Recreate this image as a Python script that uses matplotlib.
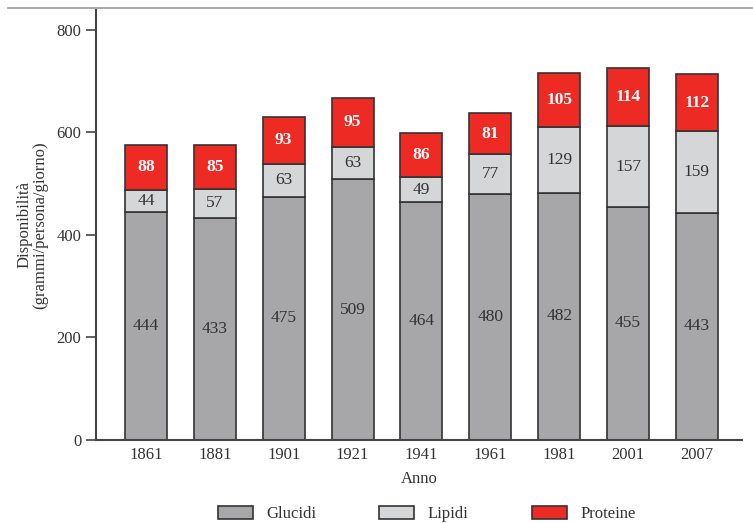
import numpy as np
import matplotlib.pyplot as plt
from matplotlib.lines import Line2D

anni = ['1861', '1881', '1901', '1921', '1941', '1961', '1981', '2001', '2007']
glucidi = [444, 433, 475, 509, 464, 480, 482, 455, 443]
lipidi = [44, 57, 63, 63, 49, 77, 129, 157, 159]
proteine = [88, 85, 93, 95, 86, 81, 105, 114, 112]

plt.rcParams['font.family'] = ['Liberation Serif', 'DejaVu Serif']

fig = plt.figure(figsize=(7.53, 5.23), dpi=100)
ax = fig.add_axes([0.1275, 0.1587, 0.8575, 0.8223])

x = np.arange(len(anni))
g = np.array(glucidi)
l = np.array(lipidi)
p = np.array(proteine)
w = 0.61
ec = '#333333'
ax.bar(x, g, w, color='#a7a7aa', edgecolor=ec, linewidth=1.2, label='Glucidi')
ax.bar(x, l, w, bottom=g, color='#d5d6d8', edgecolor=ec, linewidth=1.2, label='Lipidi')
ax.bar(x, p, w, bottom=g + l, color='#ee2a24', edgecolor=ec, linewidth=1.2, label='Proteine')

for i in range(len(anni)):
    ax.text(x[i], g[i] / 2, str(g[i]), ha='center', va='center', fontsize=12.5, color='#333333')
    ax.text(x[i], g[i] + l[i] / 2, str(l[i]), ha='center', va='center', fontsize=12.5, color='#333333')
    ax.text(x[i], g[i] + l[i] + p[i] / 2, str(p[i]), ha='center', va='center', fontsize=12.5,
            color='white', fontweight='bold')

ax.set_xlim(-0.726, 8.65)
ax.set_ylim(0, 839)
ax.set_yticks([0, 200, 400, 600, 800])
ax.set_xticks(x)
ax.set_xticklabels(anni)
ax.tick_params(axis='y', length=7, width=1.2, color='#444444', labelsize=12, labelcolor='#333333')
ax.tick_params(axis='x', length=0, pad=5, labelsize=12, labelcolor='#333333')
for s in ['top', 'right']:
    ax.spines[s].set_visible(False)
for s in ['left', 'bottom']:
    ax.spines[s].set_color('#444444')
    ax.spines[s].set_linewidth(1.5)

ax.set_xlabel('Anno', fontsize=12, color='#333333', labelpad=6)
ax.set_ylabel('Disponibilità\n(grammi/persona/giorno)', fontsize=12, color='#333333', labelpad=6,
              linespacing=1.0)

fig.add_artist(Line2D([8 / 753, 1.0], [1 - 8 / 523, 1 - 8 / 523], color='#999999', linewidth=1.2))

ax.legend(loc='center', bbox_to_anchor=(0.512, -0.172), ncol=3, frameon=False, fontsize=12,
          handlelength=2.1, handleheight=0.8, columnspacing=3.8, handletextpad=0.8,
          labelcolor='#333333')

fig.savefig('out.png', dpi=100)
